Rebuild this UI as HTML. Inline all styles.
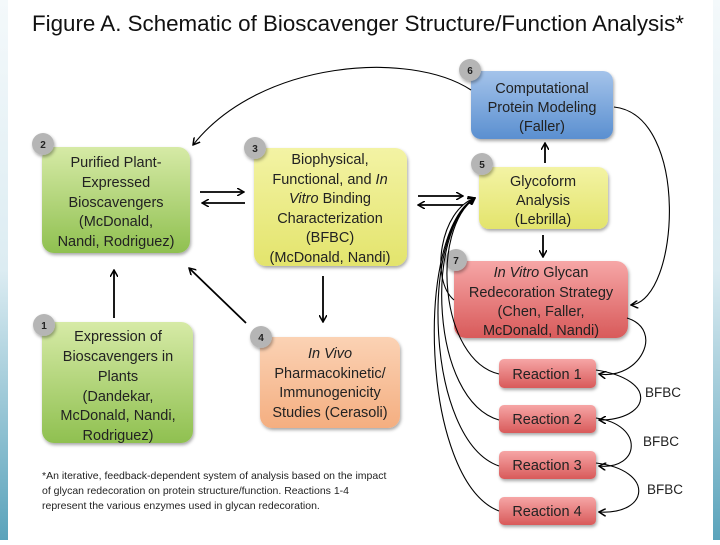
<!DOCTYPE html>
<html><head><meta charset="utf-8"><style>
body{margin:0;width:720px;height:540px;overflow:hidden;background:#fff;font-family:"Liberation Sans",sans-serif}
</style></head><body>
<svg width="720" height="540" viewBox="0 0 720 540" xmlns="http://www.w3.org/2000/svg" font-family="Liberation Sans, sans-serif">
<defs>
<linearGradient id="gG" x1="0" y1="0" x2="0" y2="1"><stop offset="0" stop-color="#d6eaa6"/><stop offset="1" stop-color="#8fc050"/></linearGradient>
<linearGradient id="gY" x1="0" y1="0" x2="0" y2="1"><stop offset="0" stop-color="#f3f3a4"/><stop offset="1" stop-color="#e3e46c"/></linearGradient>
<linearGradient id="gB" x1="0" y1="0" x2="0" y2="1"><stop offset="0" stop-color="#a4c3ea"/><stop offset="1" stop-color="#5a8fd0"/></linearGradient>
<linearGradient id="gR" x1="0" y1="0" x2="0" y2="1"><stop offset="0" stop-color="#f6a6a6"/><stop offset="1" stop-color="#d85a5a"/></linearGradient>
<linearGradient id="gO" x1="0" y1="0" x2="0" y2="1"><stop offset="0" stop-color="#fbd2b4"/><stop offset="1" stop-color="#f4ae80"/></linearGradient>
<linearGradient id="edge" x1="0" y1="0" x2="0" y2="1"><stop offset="0" stop-color="#f4f9fb"/><stop offset="0.5" stop-color="#dcecf2"/><stop offset="1" stop-color="#5aa3bb"/></linearGradient>
<marker id="a" markerWidth="8" markerHeight="8" refX="7" refY="4" orient="auto" markerUnits="userSpaceOnUse"><path d="M0,0 L7,4 L0,8" fill="none" stroke="#000" stroke-width="1.5"/></marker>
<filter id="sh" x="-10%" y="-10%" width="130%" height="130%"><feDropShadow dx="1" dy="2" stdDeviation="1.5" flood-opacity="0.35"/></filter>
</defs>
<rect x="0" y="0" width="8" height="540" fill="url(#edge)"/>
<rect x="713" y="0" width="7" height="540" fill="url(#edge)"/>
<text x="32" y="31" font-size="22" fill="#111" textLength="652" lengthAdjust="spacingAndGlyphs">Figure A. Schematic of Bioscavenger Structure/Function Analysis*</text>

<g filter="url(#sh)">
<rect x="42" y="147" width="148" height="106" rx="12" fill="url(#gG)"/>
<rect x="254" y="148" width="153" height="118" rx="12" fill="url(#gY)"/>
<rect x="42" y="322" width="151" height="121" rx="12" fill="url(#gG)"/>
<rect x="260" y="337" width="140" height="91" rx="12" fill="url(#gO)"/>
<rect x="471" y="71" width="142" height="68" rx="10" fill="url(#gB)"/>
<rect x="479" y="167" width="129" height="62" rx="10" fill="url(#gY)"/>
<rect x="454" y="261" width="174" height="77" rx="12" fill="url(#gR)"/>
<rect x="499" y="359" width="97" height="29" rx="5" fill="url(#gR)"/>
<rect x="499" y="405" width="97" height="28" rx="5" fill="url(#gR)"/>
<rect x="499" y="451" width="97" height="28" rx="5" fill="url(#gR)"/>
<rect x="499" y="497" width="97" height="28" rx="5" fill="url(#gR)"/>
</g>
<g fill="#b5b5b5" filter="url(#sh)">
<circle cx="43" cy="144" r="11"/><circle cx="255" cy="148" r="11"/><circle cx="44" cy="325" r="11"/>
<circle cx="261" cy="337" r="11"/><circle cx="470" cy="70" r="11"/><circle cx="482" cy="164" r="11"/><circle cx="456" cy="260" r="11"/>
</g>
<g font-size="10" font-weight="bold" text-anchor="middle" fill="#222">
<text x="43" y="148">2</text><text x="255" y="152">3</text><text x="44" y="329">1</text><text x="261" y="341">4</text>
<text x="470" y="74">6</text><text x="482" y="168">5</text><text x="456" y="264">7</text>
</g>
<g font-size="14.5" text-anchor="middle" fill="#222">
<text x="116" y="167">Purified Plant-</text><text x="116" y="187">Expressed</text><text x="116" y="207">Bioscavengers</text><text x="116" y="226">(McDonald,</text><text x="116" y="246">Nandi, Rodriguez)</text>
<text x="330" y="164">Biophysical,</text><text x="330" y="184">Functional, and <tspan font-style="italic">In</tspan></text><text x="330" y="203"><tspan font-style="italic">Vitro</tspan> Binding</text><text x="330" y="223">Characterization</text><text x="330" y="242">(BFBC)</text><text x="330" y="262">(McDonald, Nandi)</text>
<text x="118" y="341">Expression of</text><text x="118" y="361">Bioscavengers in</text><text x="118" y="381">Plants</text><text x="118" y="401">(Dandekar,</text><text x="118" y="420">McDonald, Nandi,</text><text x="118" y="440">Rodriguez)</text>
<text x="330" y="358" font-style="italic">In Vivo</text><text x="330" y="378">Pharmacokinetic/</text><text x="330" y="397">Immunogenicity</text><text x="330" y="417">Studies (Cerasoli)</text>
<text x="542" y="93">Computational</text><text x="542" y="112">Protein Modeling</text><text x="542" y="131">(Faller)</text>
<text x="543" y="186">Glycoform</text><text x="543" y="205">Analysis</text><text x="543" y="224">(Lebrilla)</text>
<text x="541" y="277"><tspan font-style="italic">In Vitro</tspan> Glycan</text><text x="541" y="297">Redecoration Strategy</text><text x="541" y="316">(Chen, Faller,</text><text x="541" y="335">McDonald, Nandi)</text>
<text x="547" y="379">Reaction 1</text><text x="547" y="424">Reaction 2</text><text x="547" y="470">Reaction 3</text><text x="547" y="516">Reaction 4</text>
</g>
<g font-size="13.5" fill="#222">
<text x="645" y="397">BFBC</text><text x="643" y="446">BFBC</text><text x="647" y="494">BFBC</text>
</g>
<g font-size="10.5" fill="#222">
<text x="42" y="479">*An iterative, feedback-dependent system of analysis based on the impact</text>
<text x="42" y="494">of glycan redecoration on protein structure/function. Reactions 1-4</text>
<text x="42" y="509">represent the various enzymes used in glycan redecoration.</text>
</g>

<g stroke="#000" fill="none" stroke-width="1.8" marker-end="url(#a)">
<path d="M200,192 H244"/><path d="M245,203 H202"/>
<path d="M418,196 H463"/><path d="M463,205 H418"/>
<path d="M114,318 V270"/><path d="M246,323 L189,268"/>
<path d="M323,276 V322"/><path d="M545,163 V143"/><path d="M543,235 V257"/>
</g>
<g stroke="#000" fill="none" stroke-width="1.1" marker-end="url(#a)">
<path d="M471,90 C410,50 260,60 193,145"/>
<path d="M614,107 C690,115 680,300 631,305"/>
<path d="M627,318 C665,330 640,380 599,374"/>
<path d="M596,370 C660,380 650,420 599,420"/>
<path d="M596,418 C645,425 640,470 599,466"/>
<path d="M596,463 C655,470 650,515 599,512"/>
<path d="M454,300 C430,280 440,210 475,198"/>
<path d="M499,374 C440,360 430,230 475,198"/>
<path d="M499,420 C430,400 425,230 475,198"/>
<path d="M499,466 C425,440 420,230 475,198"/>
<path d="M499,511 C420,480 415,230 475,198"/>
</g>
</svg>
</body></html>
